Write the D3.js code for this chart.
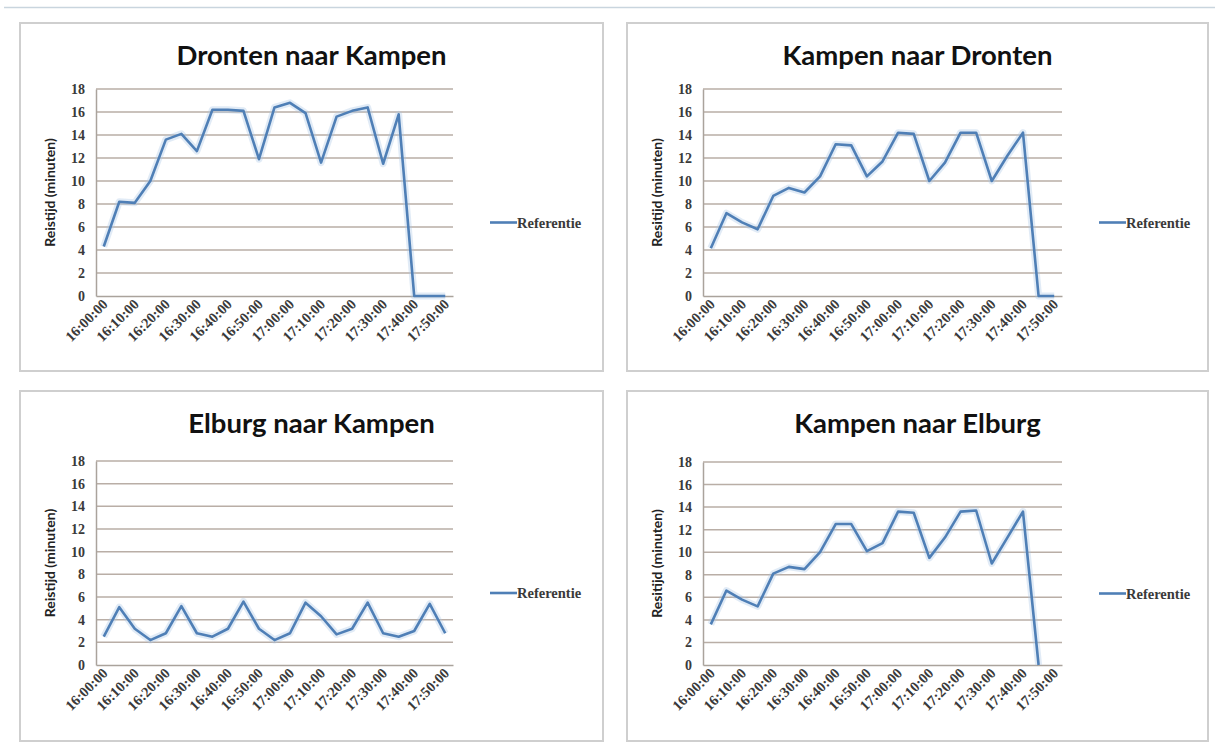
<!DOCTYPE html>
<html>
<head>
<meta charset="utf-8">
<script src="https://cdn.jsdelivr.net/npm/d3@7"></script>
<style>
  body { margin: 0; background: #fff; }
  svg { display: block; }
</style>
</head>
<body>
<script>
// categories, every 5 minutes
var times = ["16:00:00","16:05:00","16:10:00","16:15:00","16:20:00","16:25:00","16:30:00","16:35:00",
  "16:40:00","16:45:00","16:50:00","16:55:00","17:00:00","17:05:00","17:10:00","17:15:00",
  "17:20:00","17:25:00","17:30:00","17:35:00","17:40:00","17:45:00","17:50:00"];

var yTicks = [0, 2, 4, 6, 8, 10, 12, 14, 16, 18];

var drontenKampen = [4.3, 8.2, 8.1, 10.0, 13.6, 14.1, 12.6, 16.2, 16.2, 16.1, 11.9, 16.4,
  16.8, 15.9, 11.6, 15.6, 16.1, 16.4, 11.5, 15.8, 0, 0, 0];
var kampenDronten = [4.15, 7.2, 6.4, 5.8, 8.7, 9.4, 9.0, 10.4, 13.2, 13.1, 10.4, 11.7,
  14.2, 14.1, 10.0, 11.6, 14.2, 14.2, 10.0, 12.2, 14.2, 0, 0];
var elburgKampen = [2.5, 5.1, 3.2, 2.2, 2.8, 5.2, 2.8, 2.5, 3.2, 5.6, 3.2, 2.2,
  2.8, 5.5, 4.3, 2.7, 3.2, 5.5, 2.8, 2.5, 3.0, 5.4, 2.8];
var kampenElburg = [3.6, 6.6, 5.8, 5.2, 8.1, 8.7, 8.5, 10.0, 12.5, 12.5, 10.1, 10.8,
  13.6, 13.5, 9.5, 11.3, 13.6, 13.7, 9.0, 11.3, 13.6, 0, null];

var titles = ["Dronten naar Kampen", "Kampen naar Dronten", "Elburg naar Kampen", "Kampen naar Elburg"];
var yTitles = ["Reistijd (minuten)", "Resitijd (minuten)", "Reistijd (minuten)", "Resitijd (minuten)"];
var seriesName = "Referentie";

var panels = [
  {frame: [20, 23, 583, 348], plot: [96, 453, 89, 296], values: drontenKampen},
  {frame: [627, 23, 581, 348], plot: [703, 1062, 89, 296], values: kampenDronten},
  {frame: [20, 391, 583, 350], plot: [96, 453, 461, 665], values: elburgKampen},
  {frame: [627, 391, 581, 350], plot: [703, 1062, 462, 665], values: kampenElburg}
];

var lineColor = "#4f7fb6";

var svg = d3.select("body").append("svg").attr("width", 1215).attr("height", 747);

svg.append("line").attr("x1", 4).attr("x2", 1215).attr("y1", 7.5).attr("y2", 7.5)
  .attr("stroke", "#c9d5de").attr("stroke-width", 1.5);

panels.forEach(function (p, i) {
  var g = svg.append("g");
  var f = p.frame;
  g.append("rect").attr("x", f[0]).attr("y", f[1]).attr("width", f[2]).attr("height", f[3])
    .attr("fill", "#fff").attr("stroke", "#cfcfcf").attr("stroke-width", 2);

  var x = d3.scaleBand().domain(times).range([p.plot[0], p.plot[1]]).padding(0);
  var y = d3.scaleLinear().domain([0, 18]).range([p.plot[3], p.plot[2]]);

  // title
  g.append("text").attr("x", f[0] + f[2] / 2).attr("y", f[1] + 42)
    .attr("text-anchor", "middle").attr("font-family", "Lato, sans-serif")
    .attr("font-weight", "bold").attr("font-size", 27.5).attr("fill", "#111")
    .text(titles[i]);

  // gridlines
  g.append("g").selectAll("line").data(yTicks.slice(1)).enter().append("line")
    .attr("x1", p.plot[0]).attr("x2", p.plot[1])
    .attr("y1", function (d) { return y(d); }).attr("y2", function (d) { return y(d); })
    .attr("stroke", "#b9aea6").attr("stroke-width", 1.5);

  // y axis
  var ya = g.append("g").attr("transform", "translate(" + p.plot[0] + ",0)")
    .call(d3.axisLeft(y).tickValues(yTicks).tickSize(0).tickPadding(11));
  ya.select(".domain").attr("stroke", "#aaa39c").attr("stroke-width", 1.5);
  ya.selectAll("text").attr("font-family", "'Liberation Serif', serif").attr("font-weight", "bold")
    .attr("font-size", 14).attr("fill", "#3a3a3a");

  // x axis
  var xa = g.append("g").attr("transform", "translate(0," + p.plot[3] + ")")
    .call(d3.axisBottom(x).tickValues(times.filter(function (d, k) { return k % 2 === 0; }))
      .tickSize(0).tickPadding(0));
  xa.select(".domain").attr("stroke", "#aaa39c").attr("stroke-width", 1.5);
  xa.selectAll("text").attr("font-family", "'Liberation Serif', serif").attr("font-weight", "bold")
    .attr("font-size", 14.5).attr("fill", "#3a3a3a")
    .attr("text-anchor", "end").attr("dy", null)
    .attr("transform", "translate(5,9) rotate(-45)");

  // y title
  g.append("text")
    .attr("transform", "translate(" + (f[0] + 35) + "," + ((p.plot[2] + p.plot[3]) / 2) + ") rotate(-90)")
    .attr("text-anchor", "middle").attr("font-family", "Lato, sans-serif")
    .attr("font-weight", "bold").attr("font-size", 14).attr("fill", "#222")
    .text(yTitles[i]);

  // series line
  var line = d3.line()
    .defined(function (d) { return d != null; })
    .x(function (d, k) { return x(times[k]) + x.bandwidth() / 2; })
    .y(function (d) { return y(d); });

  g.append("path").datum(p.values).attr("d", line).attr("fill", "none")
    .attr("stroke", "#a9c6e6").attr("stroke-width", 7).attr("stroke-opacity", 0.35)
    .attr("stroke-linejoin", "round");
  g.append("path").datum(p.values).attr("d", line).attr("fill", "none")
    .attr("stroke", lineColor).attr("stroke-width", 2.6).attr("stroke-linejoin", "round");

  // legend
  var ly = (p.plot[2] + p.plot[3]) / 2 + 30;
  var lx = p.plot[1] + 37;
  g.append("line").attr("x1", lx).attr("x2", lx + 27).attr("y1", ly).attr("y2", ly)
    .attr("stroke", lineColor).attr("stroke-width", 2.6);
  g.append("text").attr("x", lx + 27).attr("y", ly).attr("dy", "0.35em")
    .attr("font-family", "'Liberation Serif', serif").attr("font-weight", "bold")
    .attr("font-size", 14.5).attr("fill", "#3a3a3a").text(seriesName);
});
</script>
</body>
</html>
